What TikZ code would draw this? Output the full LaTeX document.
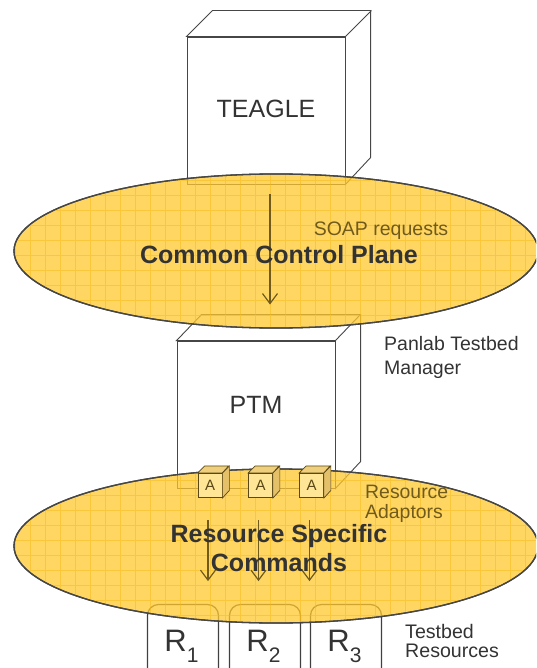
\documentclass[tikz,border=0pt]{standalone}
\usepackage{fontspec}
\setmainfont{Liberation Sans}
\usetikzlibrary{shapes.geometric,arrows.meta}
\definecolor{plane}{RGB}{255,200,46}
\definecolor{planegrid}{RGB}{245,185,20}
\definecolor{olive}{RGB}{112,90,28}
\definecolor{adfront}{RGB}{255,230,150}
\definecolor{adside}{RGB}{228,192,105}
\definecolor{boxgray}{RGB}{70,70,70}
\definecolor{txt}{RGB}{51,51,51}
\tikzset{
  boxline/.style={draw=boxgray, line width=0.9pt},
  frontface/.style={boxline, fill=white, rectangle, minimum width=158pt, minimum height=147pt, inner sep=0pt},
  planeoval/.style={ellipse, draw=boxgray, line width=1.3pt, fill=plane, fill opacity=0.75, minimum width=524pt, minimum height=154pt},
  flow/.style={draw=olive, line width=1.2pt, -{Straight Barb[length=10pt,width=15pt,line width=1.2pt]}},
  adaptor/.style={draw=olive!80!black, line width=0.7pt, fill=adfront, rectangle, minimum width=24pt, minimum height=24.5pt, inner sep=0pt, text=olive!80!black, font=\fontsize{15}{15}\selectfont},
  resbox/.style={draw=black!75, line width=1.2pt, rounded corners=11pt, minimum width=71pt, minimum height=80pt, inner sep=0pt},
  boldtext/.style={text=txt, font=\bfseries\fontsize{25}{29}\selectfont, align=center},
  note/.style={text=txt, font=\fontsize{19.5}{24}\selectfont, align=left, inner sep=0pt},
}
\newcommand{\rsub}[1]{R\raisebox{-11pt}{\fontsize{21}{21}\selectfont #1}}
\begin{document}
\begin{tikzpicture}[x=1pt,y=-1pt]
\useasboundingbox (0,0) rectangle (536,668);
\clip (0,0) rectangle (536,668);

% TEAGLE box
\node[frontface] (teagle) at (266,110.5) {};
\draw[boxline, fill=white] (teagle.north west) -- ++(26,-26) -- ++(158,0) -- ++(0,147) -- (teagle.south east) -- (teagle.north east) -- cycle;
\draw[boxline] (teagle.north east) -- ++(26,-26);
\node[text=txt, font=\fontsize{25}{25}\selectfont] (teaglelabel) at ([yshift=2pt]teagle.center) {TEAGLE};

% PTM box
\node[frontface] (ptm) at (256,414.5) {};
\draw[boxline, fill=white] (ptm.north west) -- ++(25,-26) -- ++(159,0) -- ++(0,147) -- (ptm.south east) -- (ptm.north east) -- cycle;
\draw[boxline] (ptm.north east) -- ++(25,-26);
\node[text=txt, font=\fontsize{25}{25}\selectfont] (ptmlabel) at ([yshift=10pt]ptm.center) {PTM};

% testbed resources
\foreach \i/\x in {1/183,2/265,3/346}
  \node[resbox] (r\i) at (\x,644.5) {};

% the two planes
\node[planeoval] (ccp) at (276,251) {};
\node[planeoval] (rsc) at (276,546) {};
\begin{scope}
\clip (ccp.center) ellipse (261pt and 76pt);
\draw[planegrid, line width=0.4pt, opacity=0.5] (0,150) grid[step=15pt] (540,330);
\end{scope}
\begin{scope}
\clip (rsc.center) ellipse (261pt and 76pt);
\draw[planegrid, line width=0.4pt, opacity=0.5] (0,465) grid[step=15pt] (540,630);
\end{scope}
\draw[draw=boxgray, line width=1.3pt] (ccp.center) ellipse (262pt and 77pt);
\draw[draw=boxgray, line width=1.3pt] (rsc.center) ellipse (262pt and 77pt);

% resource adaptors
\foreach \i/\x in {1/210,2/260.5,3/311.5}{
  \node[adaptor] (a\i) at (\x,485.5) {A};
  \draw[draw=olive!80!black, line width=0.7pt, fill=adside] (a\i.north east) -- ++(7,-7) -- ++(0,24.5) -- (a\i.south east) -- cycle;
  \draw[draw=olive!80!black, line width=0.7pt, fill=adside!60!adfront] (a\i.north west) -- ++(7,-7) -- ++(24,0) -- (a\i.north east) -- cycle;
}

% flows
\draw[flow] ([xshift=4pt,yshift=-10pt]teagle.south) -- ([xshift=14pt,yshift=36pt]ptm.north);
\foreach \i in {1,2,3}
  \draw[flow] ([xshift=-2pt,yshift=-22pt]a\i.south) -- ([xshift=-2pt,yshift=-83pt]a\i.south);

% texts
\node[text=olive, font=\fontsize{19.5}{19.5}\selectfont] (soap) at (381,231) {SOAP requests};
\node[boldtext] (ccptext) at (279,255) {Common Control Plane};
\node[boldtext] (rsctext) at (279,548) {Resource Specific\\Commands};
\node[note, text=olive, anchor=west, font=\fontsize{19.4}{19.6}\selectfont] (adtext) at (365,504) {Resource\\Adaptors};
\node[note, anchor=west] (ptmtext) at (384,357) {Panlab Testbed\\Manager};
\node[note, anchor=west, font=\fontsize{19.6}{19}\selectfont] (restext) at (405,641) {Testbed\\Resources};
\foreach \i in {1,2,3}
  \node[text=txt, anchor=base, font=\fontsize{31}{31}\selectfont] (rl\i) at ([xshift=-1.5pt,yshift=-7pt]r\i.center) {\rsub{\i}};
\end{tikzpicture}
\end{document}
